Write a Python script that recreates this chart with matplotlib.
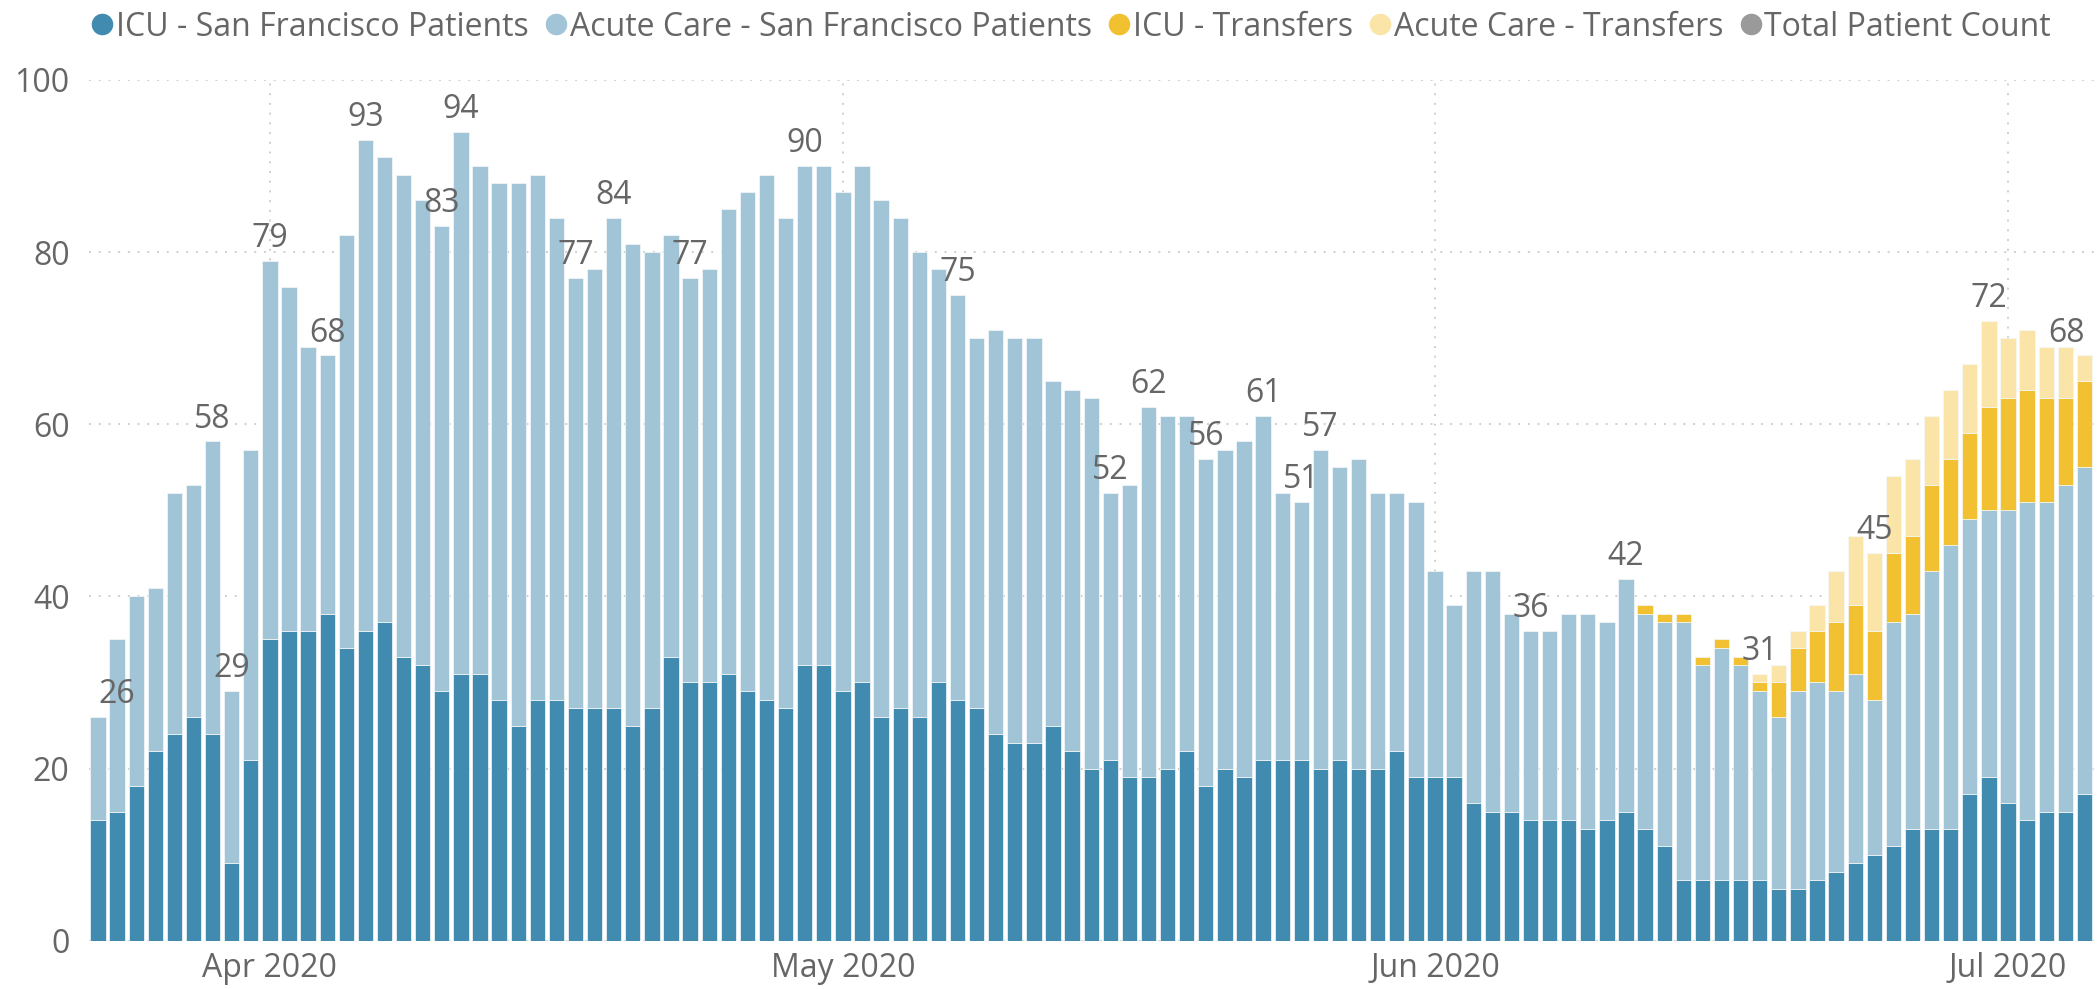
import matplotlib
matplotlib.use("Agg")
import matplotlib.pyplot as plt
import matplotlib.dates as mdates
from matplotlib.lines import Line2D
import numpy as np
import pandas as pd

plt.rcParams['font.family'] = ['Open Sans', 'DejaVu Sans']

# ---------------- data ----------------
start_date = "2020-03-23"

icu_sf = [14, 15, 18, 22, 24, 26, 24, 9, 21, 35,
          36, 36, 38, 34, 36, 37, 33, 32, 29, 31,
          31, 28, 25, 28, 28, 27, 27, 27, 25, 27,
          33, 30, 30, 31, 29, 28, 27, 32, 32, 29,
          30, 26, 27, 26, 30, 28, 27, 24, 23, 23,
          25, 22, 20, 21, 19, 19, 20, 22, 18, 20,
          19, 21, 21, 21, 20, 21, 20, 20, 22, 19,
          19, 19, 16, 15, 15, 14, 14, 14, 13, 14,
          15, 13, 11, 7, 7, 7, 7, 7, 6, 6,
          7, 8, 9, 10, 11, 13, 13, 13, 17, 19,
          16, 14, 15, 15, 17]

acute_sf = [12, 20, 22, 19, 28, 27, 34, 20, 36, 44,
            40, 33, 30, 48, 57, 54, 56, 54, 54, 63,
            59, 60, 63, 61, 56, 50, 51, 57, 56, 53,
            49, 47, 48, 54, 58, 61, 57, 58, 58, 58,
            60, 60, 57, 54, 48, 47, 43, 47, 47, 47,
            40, 42, 43, 31, 34, 43, 41, 39, 38, 37,
            39, 40, 31, 30, 37, 34, 36, 32, 30, 32,
            24, 20, 27, 28, 23, 22, 22, 24, 25, 23,
            27, 25, 26, 30, 25, 27, 25, 22, 20, 23,
            23, 21, 22, 18, 26, 25, 30, 33, 32, 31,
            34, 37, 36, 38, 38]

icu_transfers = [0, 0, 0, 0, 0, 0, 0, 0, 0, 0,
                 0, 0, 0, 0, 0, 0, 0, 0, 0, 0,
                 0, 0, 0, 0, 0, 0, 0, 0, 0, 0,
                 0, 0, 0, 0, 0, 0, 0, 0, 0, 0,
                 0, 0, 0, 0, 0, 0, 0, 0, 0, 0,
                 0, 0, 0, 0, 0, 0, 0, 0, 0, 0,
                 0, 0, 0, 0, 0, 0, 0, 0, 0, 0,
                 0, 0, 0, 0, 0, 0, 0, 0, 0, 0,
                 0, 1, 1, 1, 1, 1, 1, 1, 4, 5,
                 6, 8, 8, 8, 8, 9, 10, 10, 10, 12,
                 13, 13, 12, 10, 10]

acute_transfers = [0, 0, 0, 0, 0, 0, 0, 0, 0, 0,
                   0, 0, 0, 0, 0, 0, 0, 0, 0, 0,
                   0, 0, 0, 0, 0, 0, 0, 0, 0, 0,
                   0, 0, 0, 0, 0, 0, 0, 0, 0, 0,
                   0, 0, 0, 0, 0, 0, 0, 0, 0, 0,
                   0, 0, 0, 0, 0, 0, 0, 0, 0, 0,
                   0, 0, 0, 0, 0, 0, 0, 0, 0, 0,
                   0, 0, 0, 0, 0, 0, 0, 0, 0, 0,
                   0, 0, 0, 0, 0, 0, 0, 1, 2, 2,
                   3, 6, 8, 9, 9, 9, 8, 8, 8, 10,
                   7, 7, 6, 6, 3]

# days (0-based) whose total count is shown as a data label
label_days = [0, 6, 7, 9, 12, 14, 18, 19, 25, 27, 31, 37, 45, 53, 55,
              58, 61, 63, 64, 75, 80, 87, 93, 99, 104]

series_names = ["ICU - San Francisco Patients", "Acute Care - San Francisco Patients",
                "ICU - Transfers", "Acute Care - Transfers", "Total Patient Count"]

y_ticks = [0, 20, 40, 60, 80, 100]

# ---------------- style ----------------
C_ICU = "#418bb0"
C_ACUTE = "#a2c4d7"
C_ICU_T = "#f2c132"
C_ACUTE_T = "#fae4a8"
C_TOTAL = "#9a9a9a"
TXT = "#666666"
GRID = "#cfcfcf"
FS = 23

W, H = 2100, 989
fig = plt.figure(figsize=(W / 100, H / 100), dpi=100)
ax = fig.add_axes([89 / W, 48.3 / H, (2097 - 89) / W, 860.7 / H])

dates = pd.date_range(start_date, periods=len(icu_sf), freq="D")
x = mdates.date2num(dates)

s1 = np.array(icu_sf, dtype=float)
s2 = np.array(acute_sf, dtype=float)
s3 = np.array(icu_transfers, dtype=float)
s4 = np.array(acute_transfers, dtype=float)
total = s1 + s2 + s3 + s4

bottom = np.zeros_like(s1)
for vals, col in [(s1, C_ICU), (s2, C_ACUTE), (s3, C_ICU_T), (s4, C_ACUTE_T)]:
    sel = vals > 0
    ax.bar(x[sel], vals[sel], bottom=bottom[sel], width=0.8, color=col,
           edgecolor="#f4f8fa", linewidth=0.5, zorder=3)
    bottom = bottom + vals

# data labels
last = len(x) - 1
for k in label_days:
    ha = "center"
    if k == 0:
        ha = "left"
    elif k == last:
        ha = "right"
    ax.annotate(f"{int(total[k])}", (x[k], total[k]), xytext=(0, 10),
                textcoords="offset points", ha=ha, va="baseline",
                fontsize=FS, color=TXT, zorder=5)

# axes
ax.set_ylim(0, 100)
ax.set_xlim(x[0] - 0.47, x[-1] + 0.66)
ax.set_yticks(y_ticks)
ax.xaxis.set_major_locator(mdates.MonthLocator())
ax.xaxis.set_major_formatter(mdates.DateFormatter("%b %Y"))
ax.tick_params(axis="both", length=0, labelsize=FS, labelcolor=TXT)
ax.tick_params(axis="y", pad=14)
ax.tick_params(axis="x", pad=8)
for sp in ax.spines.values():
    sp.set_visible(False)
ax.grid(True, linestyle=(0, (1, 4)), color=GRID, linewidth=1.4, zorder=0)
ax.set_axisbelow(True)

# legend (dots + texts laid out left to right)
fig.canvas.draw()
renderer = fig.canvas.get_renderer()
xpos = 92.0
ycen = H - 24
for name, col in zip(series_names, [C_ICU, C_ACUTE, C_ICU_T, C_ACUTE_T, C_TOTAL]):
    fig.add_artist(Line2D([(xpos + 10) / W], [ycen / H], marker="o", markersize=14.5,
                          color=col, linestyle="none", transform=fig.transFigure))
    t = fig.text((xpos + 24) / W, ycen / H, name, fontsize=FS, color=TXT,
                 ha="left", va="center_baseline")
    bb = t.get_window_extent(renderer)
    xpos = bb.x1 + 17

fig.savefig("out.png", dpi=100)
